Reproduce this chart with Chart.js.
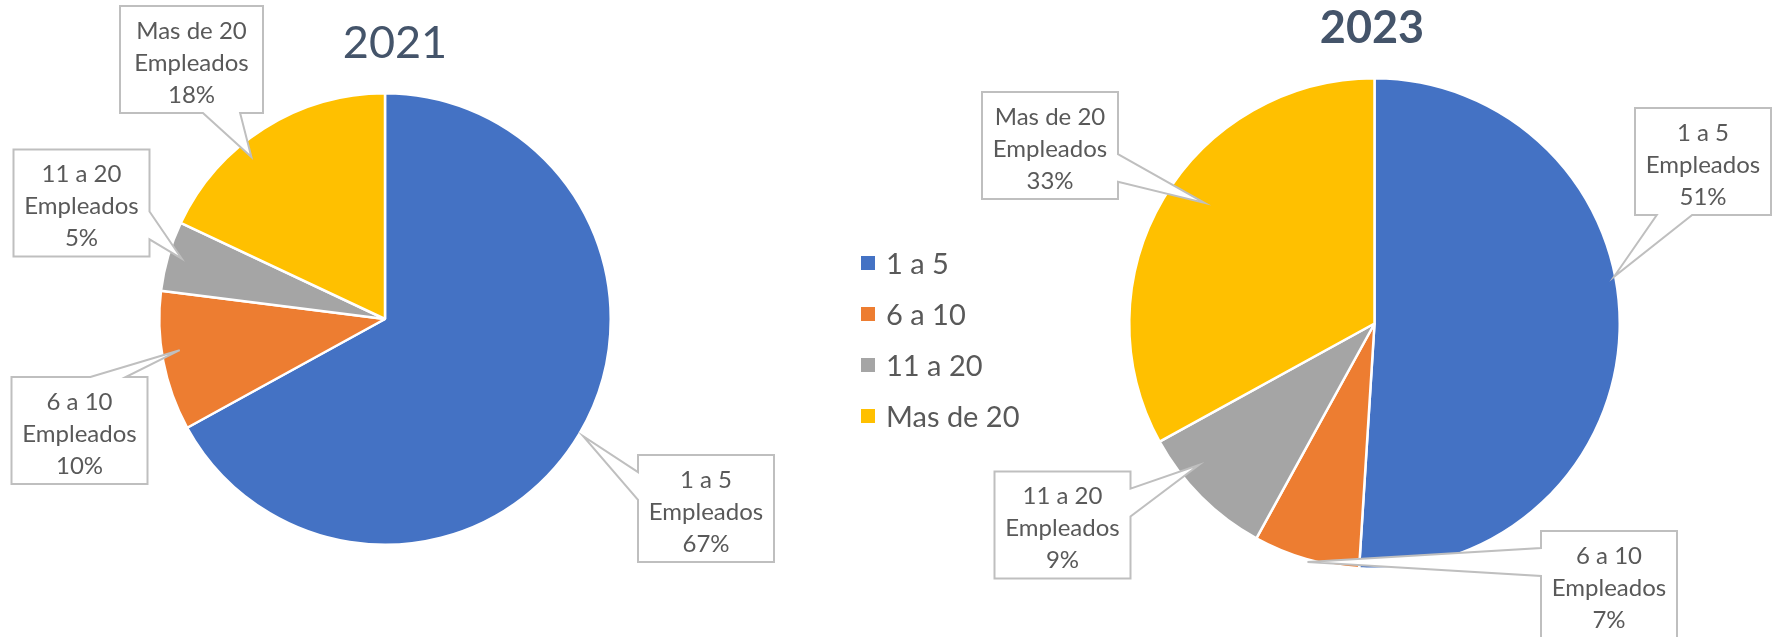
<!DOCTYPE html>
<html>
<head>
<meta charset="utf-8">
<script src="https://cdn.jsdelivr.net/npm/chart.js@4.4.1/dist/chart.umd.min.js"></script>
<style>
    html, body { margin: 0; padding: 0; background: #fff; }
    #page { position: relative; width: 1772px; height: 637px; overflow: hidden; }
    #c2021 { position: absolute; left: 0; top: 0; }
    #c2023 { position: absolute; left: 830px; top: 0; }
    #legend { position: absolute; left: 861px; top: 237px; font-family: Lato, sans-serif; font-size: 29px; color: #595959; }
    .item { display: flex; align-items: center; height: 51px; white-space: nowrap; }
    .swatch { width: 14px; height: 14px; margin-right: 11px; }
</style>
</head>
<body>
<div id="page">
    <canvas id="c2021" width="830" height="637"></canvas>
    <canvas id="c2023" width="942" height="637"></canvas>
    <div id="legend"></div>
</div>
<script>
const categories = ['1 a 5', '6 a 10', '11 a 20', 'Mas de 20'];
const values2021 = [67, 10, 5, 18];
const values2023 = [51, 7, 9, 33];
const unitLabel = 'Empleados';

const colors = ['#4472C4', '#ED7D31', '#A5A5A5', '#FFC000'];
const textColor = '#595959';
const calloutColor = '#BFBFBF';
const titleColor = '#44546A';
const fontFamily = "Lato, 'Open Sans', sans-serif";

// callout layout: t = position along the slice, f = fraction of radius, dx/dy = box centre from pie centre
const callouts2021 = [
    { t: 0.50, f: 1.02, dx: 321, dy: 189.5 },
    { t: 0.56, f: 0.92, dx: -305.5, dy: 111.5 },
    { t: 0.52, f: 0.94, dx: -303.5, dy: -116 },
    { t: 0.39, f: 0.93, dx: -193.5, dy: -259.5, w: 143 }
];
const callouts2023 = [
    { t: 0.43, f: 0.995, dx: 328.5, dy: -162 },
    { t: 0.48, f: 1.01, dx: 234.5, dy: 261 },
    { t: 0.69, f: 0.92, dx: -312, dy: 201.5 },
    { t: 0.54, f: 0.85, dx: -324.5, dy: -178 }
];

function drawCallout(ctx, tip, x, y, w, h) {
    const cx = x + w / 2, cy = y + h / 2;
    const nx = (tip.x - cx) / (w / 2), ny = (tip.y - cy) / (h / 2);
    const horiz = Math.abs(nx) > Math.abs(ny);
    const side = horiz ? (nx > 0 ? 'right' : 'left') : (ny > 0 ? 'bottom' : 'top');
    const alongX = tip.x > cx ? [0.58, 0.84] : [0.16, 0.42];
    const alongY = tip.y > cy ? [0.58, 0.84] : [0.16, 0.42];

    ctx.beginPath();
    ctx.moveTo(x, y);
    if (side === 'top') {
        ctx.lineTo(x + w * alongX[0], y);
        ctx.lineTo(tip.x, tip.y);
        ctx.lineTo(x + w * alongX[1], y);
    }
    ctx.lineTo(x + w, y);
    if (side === 'right') {
        ctx.lineTo(x + w, y + h * alongY[0]);
        ctx.lineTo(tip.x, tip.y);
        ctx.lineTo(x + w, y + h * alongY[1]);
    }
    ctx.lineTo(x + w, y + h);
    if (side === 'bottom') {
        ctx.lineTo(x + w * alongX[1], y + h);
        ctx.lineTo(tip.x, tip.y);
        ctx.lineTo(x + w * alongX[0], y + h);
    }
    ctx.lineTo(x, y + h);
    if (side === 'left') {
        ctx.lineTo(x, y + h * alongY[1]);
        ctx.lineTo(tip.x, tip.y);
        ctx.lineTo(x, y + h * alongY[0]);
    }
    ctx.closePath();
    ctx.fillStyle = '#fff';
    ctx.fill();
    ctx.lineWidth = 2;
    ctx.strokeStyle = calloutColor;
    ctx.stroke();
}

const calloutPlugin = {
    id: 'callouts',
    afterDatasetsDraw(chart, args, opts) {
        const ctx = chart.ctx;
        const meta = chart.getDatasetMeta(0);
        const values = chart.data.datasets[0].data;
        const total = values.reduce((a, b) => a + b, 0);
        ctx.save();
        meta.data.forEach((arc, i) => {
            const lay = opts.layout[i];
            const p = arc.getProps(['x', 'y', 'startAngle', 'endAngle', 'outerRadius'], true);
            const ang = p.startAngle + lay.t * (p.endAngle - p.startAngle);
            const tip = {
                x: p.x + Math.cos(ang) * p.outerRadius * lay.f,
                y: p.y + Math.sin(ang) * p.outerRadius * lay.f
            };
            const w = lay.w || 136, h = 107;
            const bx = p.x + lay.dx - w / 2, by = p.y + lay.dy - h / 2;
            drawCallout(ctx, tip, bx, by, w, h);

            const lines = [chart.data.labels[i], unitLabel, Math.round(values[i] / total * 100) + '%'];
            ctx.fillStyle = textColor;
            ctx.font = '24px ' + fontFamily;
            ctx.textAlign = 'center';
            ctx.textBaseline = 'alphabetic';
            lines.forEach((line, k) => ctx.fillText(line, bx + w / 2, by + h / 2 - 21 + k * 32));
        });
        ctx.restore();
    },
    afterDraw(chart, args, opts) {
        const ctx = chart.ctx;
        ctx.save();
        ctx.fillStyle = titleColor;
        ctx.font = opts.heading.weight + ' 45px ' + fontFamily;
        ctx.textAlign = 'center';
        ctx.textBaseline = 'alphabetic';
        ctx.fillText(opts.heading.text, opts.heading.x, opts.heading.y);
        ctx.restore();
    }
};

function makePie(id, values, layout, padding, heading) {
    return new Chart(document.getElementById(id), {
        type: 'pie',
        data: {
            labels: categories,
            datasets: [{
                data: values,
                backgroundColor: colors,
                borderColor: '#fff',
                borderWidth: 2.5
            }]
        },
        options: {
            responsive: false,
            animation: false,
            events: [],
            layout: { padding: padding },
            plugins: {
                legend: { display: false },
                tooltip: { enabled: false },
                callouts: { layout: layout, heading: heading }
            }
        },
        plugins: [calloutPlugin]
    });
}

makePie('c2021', values2021, callouts2021,
    { left: 158, right: 218, top: 92, bottom: 91 },
    { text: '2021', x: 395, y: 58, weight: 'normal' });

makePie('c2023', values2023, callouts2023,
    { left: 298, right: 151, top: 77, bottom: 67 },
    { text: '2023', x: 542, y: 43, weight: 'bold' });

// legend
const legend = document.getElementById('legend');
categories.forEach((cat, i) => {
    const item = document.createElement('div');
    item.className = 'item';
    item.innerHTML = `<span class="swatch" style="background:${colors[i]}"></span><span>${cat}</span>`;
    legend.appendChild(item);
});
</script>
</body>
</html>
